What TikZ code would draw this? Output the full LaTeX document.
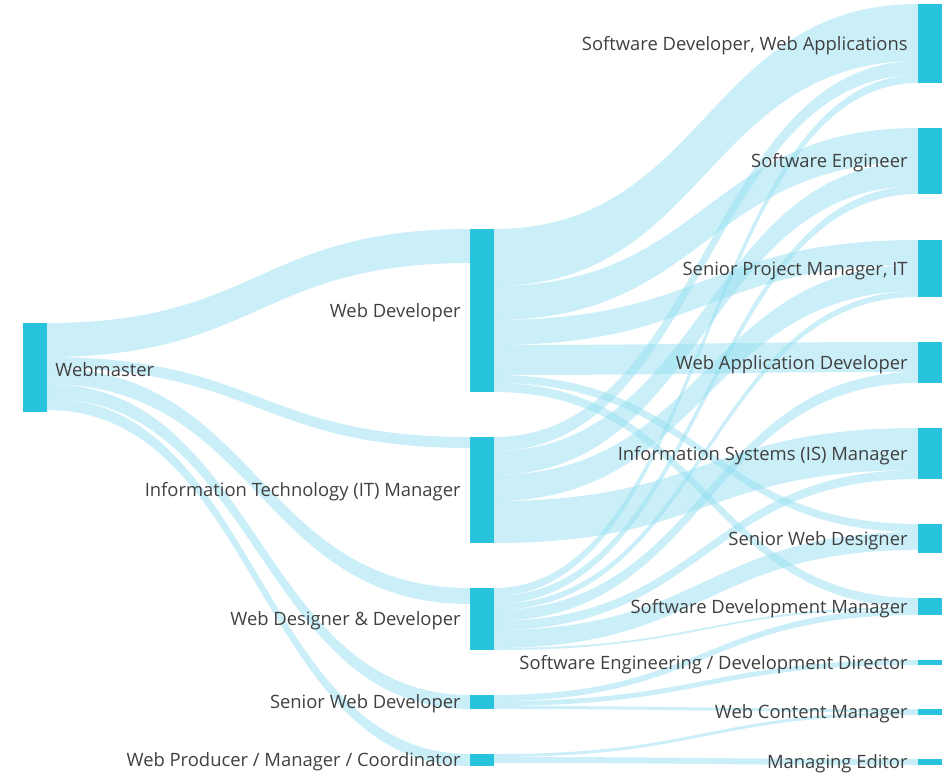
\documentclass[tikz,border=0pt]{standalone}
\usepackage{fontspec}
\setmainfont{Open Sans}
\definecolor{barc}{RGB}{40,196,222}
\definecolor{bandc}{RGB}{140,220,240}
\definecolor{txtc}{RGB}{64,64,64}
\newcommand{\sband}[6]{%
  \fill[bandstyle] (#1,#2) .. controls ({(#1+#4)/2},#2) and ({(#1+#4)/2},#5) .. (#4,#5)
    -- (#4,#6) .. controls ({(#1+#4)/2},#6) and ({(#1+#4)/2},#3) .. (#1,#3) -- cycle;}
\tikzset{
  bandstyle/.style={fill=bandc, fill opacity=0.45},
  bar/.style={fill=barc, inner sep=0pt, minimum width=24pt, draw=none},
  lab/.style={text=txtc, font=\fontsize{18.4}{22}\selectfont, inner sep=0pt, yshift=-2pt},
}
\begin{document}
\begin{tikzpicture}[x=1pt,y=-1pt]
\useasboundingbox (0,0) rectangle (947,773);
% Webmaster -> level 2
\sband{47}{323}{357}{470}{229}{263}
\sband{47}{357}{368}{470}{437}{448}
\sband{47}{368}{384}{470}{588}{604}
\sband{47}{384}{398}{470}{695}{709}
\sband{47}{398}{410}{470}{754}{766}
% Web Developer
\sband{494}{229}{286}{918}{4}{61}
\sband{494}{286}{320}{918}{128}{162}
\sband{494}{320}{345}{918}{240}{265}
\sband{494}{345}{375}{918}{342}{372}
\sband{494}{375}{383}{918}{524}{532}
\sband{494}{383}{392}{918}{598}{607}
% IT Manager
\sband{494}{437}{451}{918}{61}{75}
\sband{494}{451}{475}{918}{162}{186}
\sband{494}{475}{501}{918}{265}{291}
\sband{494}{501}{543}{918}{428}{470}
% Web Designer & Developer
\sband{494}{588}{596}{918}{75}{83}
\sband{494}{596}{604}{918}{186}{194}
\sband{494}{604}{610}{918}{291}{297}
\sband{494}{610}{621}{918}{372}{383}
\sband{494}{621}{630}{918}{470}{479}
\sband{494}{630}{648}{918}{532}{550}
\sband{494}{648}{650}{918}{607}{609}
% Senior Web Developer
\sband{494}{695}{701}{918}{609}{615}
\sband{494}{701}{706}{918}{660}{665}
\sband{494}{706}{709}{918}{709}{712}
% Web Producer
\sband{494}{754}{757}{918}{712}{715}
\sband{494}{757}{763}{918}{759}{765}
% bars
\node[bar, minimum height=89pt] (wm) at (35,367.5) {};
\node[bar, minimum height=163pt] (wd) at (482,310.5) {};
\node[bar, minimum height=106pt] (itm) at (482,490) {};
\node[bar, minimum height=62pt] (wdd) at (482,619) {};
\node[bar, minimum height=14pt] (swdev) at (482,702) {};
\node[bar, minimum height=12pt] (wp) at (482,760) {};
\node[bar, minimum height=79pt] (sdwa) at (930,43.5) {};
\node[bar, minimum height=66pt] (se) at (930,161) {};
\node[bar, minimum height=57pt] (spm) at (930,268.5) {};
\node[bar, minimum height=41pt] (wad) at (930,362.5) {};
\node[bar, minimum height=51pt] (ism) at (930,453.5) {};
\node[bar, minimum height=29pt] (swdes) at (930,538.5) {};
\node[bar, minimum height=17pt] (sdm) at (930,606.5) {};
\node[bar, minimum height=5pt] (sedd) at (930,662.5) {};
\node[bar, minimum height=6pt] (wcm) at (930,712) {};
\node[bar, minimum height=6pt] (me) at (930,762) {};
% labels
\node[lab, anchor=west] (lwm) at ([xshift=8pt]wm.east) {Webmaster};
\node[lab, anchor=east] (lwd) at ([xshift=-9pt]wd.west) {Web Developer};
\node[lab, anchor=east] (litm) at ([xshift=-9pt]itm.west) {Information Technology (IT) Manager};
\node[lab, anchor=east] (lwdd) at ([xshift=-9pt]wdd.west) {Web Designer \& Developer};
\node[lab, anchor=east] (lswdev) at ([xshift=-9pt]swdev.west) {Senior Web Developer};
\node[lab, anchor=east] (lwp) at ([xshift=-9pt]wp.west) {Web Producer / Manager / Coordinator};
\node[lab, anchor=east] (lsdwa) at ([xshift=-10pt]sdwa.west) {Software Developer, Web Applications};
\node[lab, anchor=east] (lse) at ([xshift=-10pt]se.west) {Software Engineer};
\node[lab, anchor=east] (lspm) at ([xshift=-10pt]spm.west) {Senior Project Manager, IT};
\node[lab, anchor=east] (lwad) at ([xshift=-10pt]wad.west) {Web Application Developer};
\node[lab, anchor=east] (lism) at ([xshift=-10pt]ism.west) {Information Systems (IS) Manager};
\node[lab, anchor=east] (lswdes) at ([xshift=-10pt]swdes.west) {Senior Web Designer};
\node[lab, anchor=east] (lsdm) at ([xshift=-10pt]sdm.west) {Software Development Manager};
\node[lab, anchor=east] (lsedd) at ([xshift=-10pt]sedd.west) {Software Engineering / Development Director};
\node[lab, anchor=east] (lwcm) at ([xshift=-10pt]wcm.west) {Web Content Manager};
\node[lab, anchor=east] (lme) at ([xshift=-10pt]me.west) {Managing Editor};
\end{tikzpicture}
\end{document}
